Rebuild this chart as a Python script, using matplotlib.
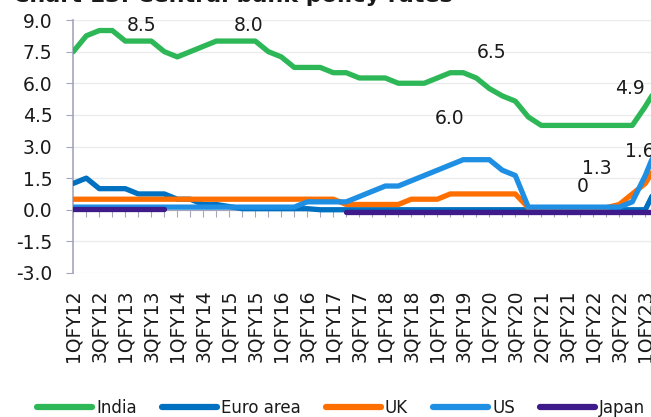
import matplotlib.pyplot as plt
import numpy as np
from matplotlib.ticker import FormatStrFormatter

# quarterly categories, labels are printed on every second one
quarters = ['1QFY12', '2QFY12', '3QFY12', '4QFY12', '1QFY13', '2QFY13', '3QFY13', '4QFY13',
            '1QFY14', '2QFY14', '3QFY14', '4QFY14', '1QFY15', '2QFY15', '3QFY15', '4QFY15',
            '1QFY16', '2QFY16', '3QFY16', '4QFY16', '1QFY17', '2QFY17', '3QFY17', '4QFY17',
            '1QFY18', '2QFY18', '3QFY18', '4QFY18', '1QFY19', '2QFY19', '3QFY19', '4QFY19',
            '1QFY20', '2QFY20', '3QFY20', '4QFY20', '2QFY21', '2QFY21', '3QFY21', '4QFY21',
            '1QFY22', '2QFY22', '3QFY22', '4QFY22', '1QFY23', '2QFY23']

india = [7.5, 8.25, 8.5, 8.5, 8.0, 8.0, 8.0, 7.5, 7.25, 7.5, 7.75, 8.0, 8.0, 8.0, 8.0, 7.5,
         7.25, 6.75, 6.75, 6.75, 6.5, 6.5, 6.25, 6.25, 6.25, 6.0, 6.0, 6.0, 6.25, 6.5, 6.5, 6.25,
         5.75, 5.4, 5.15, 4.4, 4.0, 4.0, 4.0, 4.0, 4.0, 4.0, 4.0, 4.0, 4.9, 5.9]
euro = [1.25, 1.5, 1.0, 1.0, 1.0, 0.75, 0.75, 0.75, 0.5, 0.5, 0.25, 0.25, 0.15, 0.05, 0.05, 0.05,
        0.05, 0.05, 0.05, 0.0, 0.0, 0.0, 0.0, 0.0, 0.0, 0.0, 0.0, 0.0, 0.0, 0.0, 0.0, 0.0,
        0.0, 0.0, 0.0, 0.0, 0.0, 0.0, 0.0, 0.0, 0.0, 0.0, 0.0, 0.0, 0.0, 1.25]
uk = [0.5, 0.5, 0.5, 0.5, 0.5, 0.5, 0.5, 0.5, 0.5, 0.5, 0.5, 0.5, 0.5, 0.5, 0.5, 0.5,
      0.5, 0.5, 0.5, 0.5, 0.5, 0.25, 0.25, 0.25, 0.25, 0.25, 0.5, 0.5, 0.5, 0.75, 0.75, 0.75,
      0.75, 0.75, 0.75, 0.1, 0.1, 0.1, 0.1, 0.1, 0.1, 0.1, 0.25, 0.75, 1.25, 2.25]
us = [0.125, 0.125, 0.125, 0.125, 0.125, 0.125, 0.125, 0.125, 0.125, 0.125, 0.125, 0.125,
      0.125, 0.125, 0.125, 0.125, 0.125, 0.125, 0.375, 0.375, 0.375, 0.375, 0.625, 0.875,
      1.125, 1.125, 1.375, 1.625, 1.875, 2.125, 2.375, 2.375, 2.375, 1.875, 1.625, 0.125,
      0.125, 0.125, 0.125, 0.125, 0.125, 0.125, 0.125, 0.375, 1.625, 3.125]
japan = [0.05] * 8 + [np.nan] * 13 + [-0.1] * 25

series = [('India', india, '#2DB757'),
          ('Euro area', euro, '#0070C0'),
          ('UK', uk, '#FF6F00'),
          ('US', us, '#1E8FE3'),
          ('Japan', japan, '#3E1A8A')]

# data labels as they sit in the original chart
labels = [('8.5', 5.26, 8.72), ('8.0', 13.45, 8.72), ('6.5', 32.2, 7.46), ('6.0', 28.97, 4.35),
          ('4.9', 42.8, 5.73), ('1.3', 40.26, 1.97), ('0', 39.2, 1.1), ('1.6', 43.6, 2.76)]

axis_col = '#A5A5BD'
txt_col = '#1A1A1A'

fig = plt.figure(figsize=(6.51, 4.17), dpi=100)
ax = fig.add_axes([73.3 / 651, 1 - 273 / 417, 1 - 73.3 / 651, 253 / 417])

x = np.arange(len(quarters))
for name, vals, col in series:
    ax.plot(x, vals, color=col, lw=3.8, solid_capstyle='round',
            solid_joinstyle='round', label=name, zorder=3)

for s, lx, ly in labels:
    ax.text(lx, ly, s, ha='center', va='center', fontsize=13.5, color=txt_col, zorder=4)

ax.set_xticks(x)
ax.set_yticks(np.arange(-3, 9.1, 1.5))
ax.yaxis.set_major_formatter(FormatStrFormatter('%.1f'))
ax.grid(axis='y', color='#EBEBEB', lw=1)
ax.set_axisbelow(True)

ax.spines['top'].set_visible(False)
ax.spines['right'].set_visible(False)
ax.spines['left'].set_color(axis_col)
ax.spines['left'].set_linewidth(1.2)
ax.spines['bottom'].set_position(('data', 0))
ax.spines['bottom'].set_color(axis_col)

ax.tick_params(axis='x', length=5, color=axis_col, labelbottom=False)
ax.tick_params(axis='y', length=5, color=axis_col, labelsize=13.5, pad=10, labelcolor=txt_col)

sec = ax.secondary_xaxis('bottom')
sec.set_xticks(x[::2], labels=quarters[::2])
sec.tick_params(length=0, pad=12, labelsize=13.5, rotation=90, labelcolor=txt_col)
sec.spines['bottom'].set_visible(False)

# the chart is cropped at the right edge, so limits are set last
ax.set_xlim(0, (651 - 73.3) / 13)
ax.set_ylim(-3, 9)

fig.text(13 / 651, 1 - 2 / 417, 'Chart 13: Central bank policy rates', fontsize=16,
         fontweight='bold', va='baseline', ha='left', color=txt_col)

leg = fig.legend(loc='center left', bbox_to_anchor=(37 / 651, 1 - 408 / 417), ncol=5,
                 frameon=False, fontsize=12, handlelength=3.3, handletextpad=0.25,
                 columnspacing=1.5, borderpad=0, borderaxespad=0)
for line in leg.get_lines():
    line.set_linewidth(4.5)
for t in leg.get_texts():
    t.set_color(txt_col)

fig.savefig('out.png', dpi=100)
